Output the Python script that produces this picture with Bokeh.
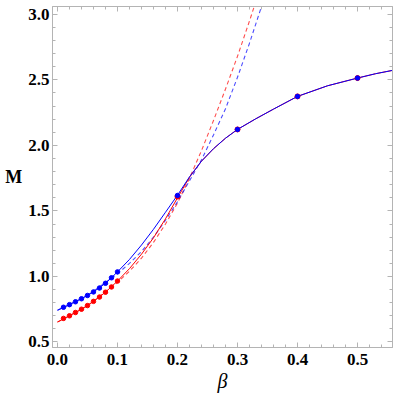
from bokeh.plotting import figure
from bokeh.models import Range1d, LinearAxis, SingleIntervalTicker, NumeralTickFormatter, CustomJSTickFormatter
from bokeh.embed import file_html
from bokeh.resources import INLINE

# --- data ---
beta_dots_low = [0.01, 0.02, 0.03, 0.04, 0.05, 0.06, 0.07, 0.08, 0.09, 0.10]
blue_dots_low = [0.765, 0.785, 0.807, 0.830, 0.855, 0.882, 0.912, 0.948, 0.990, 1.035]
red_dots_low = [0.680, 0.700, 0.725, 0.750, 0.778, 0.810, 0.843, 0.880, 0.920, 0.965]
beta_dots_high = [0.2, 0.3, 0.4, 0.5]
blue_dots_high = [1.618, 2.122, 2.374, 2.514]
red_dots_high = [1.610, 2.122, 2.374, 2.514]

beta_blue_solid = [0.0, 0.02, 0.04, 0.06, 0.08, 0.10, 0.12, 0.14, 0.16, 0.18, 0.20, 0.22,
                   0.24, 0.26, 0.28, 0.30, 0.33, 0.36, 0.40, 0.45, 0.50, 0.53, 0.56]
blue_solid = [0.742, 0.785, 0.830, 0.882, 0.948, 1.035, 1.130, 1.240, 1.360, 1.490, 1.620, 1.760,
              1.880, 1.975, 2.055, 2.122, 2.202, 2.277, 2.374, 2.455, 2.514, 2.547, 2.574]

beta_red_solid = [0.0, 0.02, 0.04, 0.06, 0.08, 0.10, 0.12, 0.14, 0.16, 0.18, 0.20, 0.22,
                  0.24, 0.26, 0.28, 0.30, 0.33, 0.36, 0.40, 0.45, 0.50, 0.53, 0.56]
red_solid = [0.652, 0.700, 0.750, 0.810, 0.880, 0.965, 1.060, 1.170, 1.295, 1.440, 1.600, 1.757,
             1.880, 1.975, 2.055, 2.122, 2.202, 2.277, 2.374, 2.455, 2.514, 2.547, 2.574]

beta_blue_dash = [0.0, 0.05, 0.10, 0.12, 0.14, 0.16, 0.18, 0.20, 0.22, 0.24, 0.26, 0.28, 0.30, 0.32, 0.34]
blue_dash = [0.742, 0.855, 1.020, 1.100, 1.190, 1.300, 1.430, 1.570, 1.730, 1.890, 2.080, 2.280, 2.520, 2.780, 3.060]

beta_red_dash = [0.0, 0.05, 0.10, 0.12, 0.14, 0.16, 0.18, 0.20, 0.22, 0.24, 0.26, 0.28, 0.30, 0.32, 0.33]
red_dash = [0.652, 0.775, 0.955, 1.040, 1.140, 1.260, 1.400, 1.560, 1.750, 1.960, 2.190, 2.430, 2.680, 2.950, 3.090]

BLUE = "#0000ff"
RED = "#ff0000"
FRAME = "#b4b4b4"
FONT = "Liberation Serif"

p = figure(frame_width=340, frame_height=341, output_backend="svg", toolbar_location=None,
           x_range=Range1d(-0.0083, 0.5583), y_range=Range1d(0.458, 3.06),
           min_border_left=52, min_border_top=6, min_border_right=6, min_border_bottom=50,
           x_axis_location=None, y_axis_location=None)
p.xgrid.visible = False
p.ygrid.visible = False
p.outline_line_color = FRAME
p.background_fill_color = "white"
p.border_fill_color = "white"


def style_axis(ax, ticker, show_labels):
    ax.ticker = ticker
    ax.axis_line_color = FRAME
    ax.major_tick_line_color = FRAME
    ax.minor_tick_line_color = FRAME
    ax.major_tick_in = 5
    ax.major_tick_out = 0
    ax.minor_tick_in = 3
    ax.minor_tick_out = 0
    if show_labels:
        ax.formatter = NumeralTickFormatter(format="0.0")
        ax.major_label_text_font = FONT
        ax.major_label_text_font_style = "bold"
        ax.major_label_text_font_size = "17px"
        ax.major_label_text_color = "black"
    else:
        ax.formatter = CustomJSTickFormatter(code="return ''")
        ax.major_label_standoff = 0


xt = lambda: SingleIntervalTicker(interval=0.1, num_minor_ticks=5)
yt = lambda: SingleIntervalTicker(interval=0.5, num_minor_ticks=5)

xb = LinearAxis()
style_axis(xb, xt(), True)
xb.major_label_standoff = 6
xb.axis_label = "β"
xb.axis_label_text_font = FONT
xb.axis_label_text_font_style = "italic"
xb.axis_label_text_font_size = "20px"
xb.axis_label_text_color = "black"
xb.axis_label_standoff = 2
p.add_layout(xb, "below")

yl = LinearAxis()
style_axis(yl, yt(), True)
yl.major_label_standoff = 3
yl.axis_label = "M"
yl.axis_label_orientation = "horizontal"
yl.axis_label_text_font = FONT
yl.axis_label_text_font_style = "bold"
yl.axis_label_text_font_size = "18px"
yl.axis_label_text_color = "black"
yl.axis_label_standoff = 3
p.add_layout(yl, "left")

xa = LinearAxis()
style_axis(xa, xt(), False)
p.add_layout(xa, "above")

yr = LinearAxis()
style_axis(yr, yt(), False)
p.add_layout(yr, "right")

# dashed curves
p.line(beta_red_dash, red_dash, line_color=RED, line_width=1.1, line_dash="4 3", line_alpha=0.7)
p.line(beta_blue_dash, blue_dash, line_color=BLUE, line_width=1.1, line_dash="4 3", line_alpha=0.7)
# solid curves
p.line(beta_red_solid, red_solid, line_color=RED, line_width=1.0)
p.line(beta_blue_solid, blue_solid, line_color=BLUE, line_width=1.0)
# dots
p.scatter(beta_dots_low, red_dots_low, size=4.5, color=RED)
p.scatter(beta_dots_high, red_dots_high, size=5, color=RED)
p.scatter(beta_dots_low, blue_dots_low, size=4.5, color=BLUE)
p.scatter(beta_dots_high, blue_dots_high, size=4.5, color=BLUE)

open("out.html", "w").write(file_html(p, INLINE))
